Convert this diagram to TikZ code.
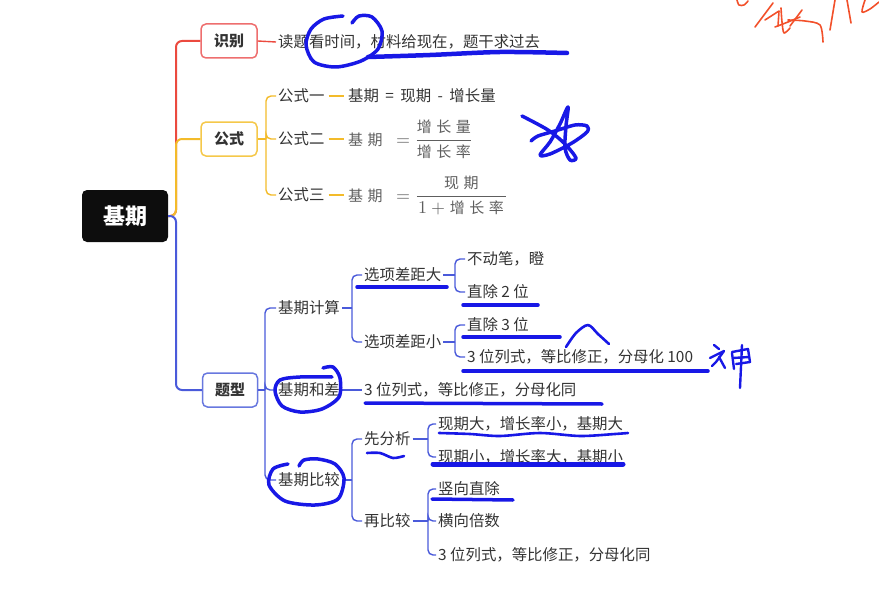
\documentclass[tikz,border=0pt]{standalone}
\usepackage{amsmath}
\usepackage{fontspec}
\usepackage{unicode-math}
\setmainfont{Noto Sans CJK SC}
\usetikzlibrary{calc}

\definecolor{txt}{HTML}{333333}
\definecolor{fgray}{HTML}{5E5E5E}
\definecolor{cred}{HTML}{EB4A3F}
\definecolor{credbox}{HTML}{EE6E6E}
\definecolor{cyel}{HTML}{F3BB2A}
\definecolor{cyelbox}{HTML}{F5C84A}
\definecolor{cblu}{HTML}{4A5ADA}
\definecolor{cblubox}{HTML}{6878DF}
\definecolor{ink}{HTML}{1818E6}
\definecolor{redink}{HTML}{F2502A}

% CJK word inside a formula, set at text size with letter gaps
\newcommand{\fw}[1]{\mbox{\fontsize{15}{18}\selectfont #1}}
\newcommand{\fg}{\hspace{4.5pt}}

\begin{document}
\begin{tikzpicture}[x=1pt,y=-1pt,
  box/.style={draw, rounded corners=5pt, line width=1.5pt, minimum width=56pt,
    minimum height=34pt, fill=white, text=txt, inner sep=0pt,
    font=\fontsize{15}{18}\selectfont\bfseries},
  leaf/.style={anchor=west, text=txt, font=\fontsize{15.4}{18}\selectfont,
    inner xsep=2pt, inner ysep=0pt, text height=12.8pt, text depth=1.6pt},
  formula/.style={leaf, text=fgray, font=\fontsize{18}{21}\selectfont,
    text height=12pt, text depth=0pt},
  br/.style={line width=1.4pt, rounded corners=5pt},
  trunk/.style={line width=2pt, rounded corners=6pt},
  inkpen/.style={ink, line width=3.5pt, line cap=round, line join=round},
  redpen/.style={redink, line width=1.6pt, line cap=round, line join=round}]

\useasboundingbox (0,0) rectangle (879,594);

% ---------- root and first-level boxes ----------
\node[rounded corners=5pt, fill=black!95, text=white, minimum width=86pt,
  minimum height=52pt, inner sep=0pt, font=\fontsize{22}{26}\selectfont\bfseries]
  (root) at (125,216) {基期};
\node[box, draw=credbox] (shibie) at (229,41) {识别};
\node[box, draw=cyelbox] (gongshi) at (229,139) {公式};
\node[box, draw=cblubox, minimum width=55pt] (tixing) at (230,390) {题型};

\coordinate (rj) at (176,216);
\draw[trunk, cred] (root.east) -- (rj) |- (shibie.west);
\draw[trunk, cyel] (root.east) -- (rj) |- (gongshi.west);
\draw[trunk, cblu] (root.east) -- (rj) |- (tixing.west);

% ---------- 识别 ----------
\node[leaf] (sb1) at (276,42) {读题看时间，材料给现在，题干求过去};
\draw[br, cred] (shibie.east) -- (sb1.west);

% ---------- 公式 ----------
\node[leaf] (g1) at (276,96) {公式一};
\node[leaf] (g2) at (276,139) {公式二};
\node[leaf] (g3) at (276,195) {公式三};
\coordinate (gj) at (266,139);
\draw[br, cyel] (gongshi.east) -- (gj);
\foreach \c in {g1,g2,g3} \draw[br, cyel] (gj) |- (\c.west);

\node[leaf] (f1) at (346,96) {基期\hspace{3pt} = \hspace{3pt}现期\hspace{3pt} - \hspace{3pt}增长量};
\node[formula] (f2) at (346,139)
  {$\fw{基\fg 期}\hspace{9pt} = \dfrac{\fw{增\fg 长\fg 量}}{\fw{增\fg 长\fg 率}}$};
\node[formula] (f3) at (346,195)
  {$\fw{基\fg 期}\hspace{9pt} = \dfrac{\fw{现\fg 期}}{\hspace{2pt}1 + \fw{增\fg 长\fg 率}\hspace{2pt}}$};
\foreach \a/\b in {g1/f1,g2/f2,g3/f3}
  \draw[cyel, line width=1.4pt, shorten <=2pt, shorten >=2pt] (\a.east) -- (\b.west);

% ---------- 题型 ----------
\node[leaf] (js) at (276,308) {基期计算};
\node[leaf] (hc) at (276,390) {基期和差};
\node[leaf] (bj) at (276,480) {基期比较};
\coordinate (tj) at (265,390);
\draw[br, cblu] (tixing.east) -- (tj);
\foreach \c in {js,hc,bj} \draw[br, cblu] (tj) |- (\c.west);

% 基期计算
\node[leaf] (xd) at (362,275) {选项差距大};
\node[leaf] (xx) at (362,342) {选项差距小};
\coordinate (jsj) at (352,308);
\draw[br, cblu] (js.east) -- (jsj);
\foreach \c in {xd,xx} \draw[br, cblu] (jsj) |- (\c.west);

\node[leaf] (xd1) at (465,259) {不动笔，瞪};
\node[leaf] (xd2) at (465,292) {直除 2 位};
\coordinate (xdj) at (455,275);
\draw[br, cblu] (xd.east) -- (xdj);
\foreach \c in {xd1,xd2} \draw[br, cblu] (xdj) |- (\c.west);

\node[leaf] (xx1) at (465,325) {直除 3 位};
\node[leaf] (xx2) at (465,357) {3 位列式，等比修正，分母化 100};
\coordinate (xxj) at (455,342);
\draw[br, cblu] (xx.east) -- (xxj);
\foreach \c in {xx1,xx2} \draw[br, cblu] (xxj) |- (\c.west);

% 基期和差
\node[leaf] (hc1) at (362,390) {3 位列式，等比修正，分母化同};
\draw[br, cblu] (hc.east) -- (hc1.west);

% 基期比较
\node[leaf] (fx) at (362,439) {先分析};
\node[leaf] (zb) at (362,521) {再比较};
\coordinate (bjj) at (352,480);
\draw[br, cblu] (bj.east) -- (bjj);
\foreach \c in {fx,zb} \draw[br, cblu] (bjj) |- (\c.west);

\node[leaf] (fx1) at (436,424) {现期大，增长率小，基期大};
\node[leaf] (fx2) at (436,457) {现期小，增长率大，基期小};
\coordinate (fxj) at (428,439);
\draw[br, cblu] (fx.east) -- (fxj);
\foreach \c in {fx1,fx2} \draw[br, cblu] (fxj) |- (\c.west);

\node[leaf] (zb1) at (436,489) {竖向直除};
\node[leaf] (zb2) at (436,521) {横向倍数};
\node[leaf] (zb3) at (436,555) {3 位列式，等比修正，分母化同};
\coordinate (zbj) at (428,521);
\draw[br, cblu] (zb.east) -- (zbj);
\foreach \c in {zb1,zb2,zb3} \draw[br, cblu] (zbj) |- (\c.west);

% ---------- pen marks ----------
% loop and underline on the first line
\draw[inkpen] plot[smooth] coordinates {(352,23) (359,16) (372,17) (382,31)
  (378,49) (361,61) (336,67) (314,62) (306,45) (311,29) (324,19) (343,16)};
\draw[inkpen, line width=4.5pt] plot[smooth] coordinates {(368,57) (430,55) (500,52) (567,53)};
% star
\draw[inkpen] plot[smooth] coordinates {(522,116) (548,130) (565,144) (576,158)
  (570,160) (565,148) (566,126) (568,107) (560,124) (550,142) (540,155)
  (550,154) (572,143) (587,132) (587,126) (575,125) (555,131) (538,136) (531,141)};
% underlines in 基期计算
\draw[inkpen] (357,287) -- (447,287);
\draw[inkpen] (463,305) -- (538,305);
\draw[inkpen] (463,337) -- (560,337);
\draw[inkpen, line width=2.6pt] plot[smooth] coordinates {(566,347) (576,333) (588,325) (598,334) (609,344)};
\draw[inkpen] (463,371) -- (708,371);
% handwritten character beside the 100 line
\draw[inkpen, line width=2.4pt] (714,345) -- (719,349);
\draw[inkpen, line width=2.4pt] (710,358) -- (724,351) -- (716,362) -- (712,366);
\draw[inkpen, line width=2.4pt] (719,357) -- (725,368);
\draw[inkpen, line width=2.4pt] (732,353) -- (734,369);
\draw[inkpen, line width=2.4pt] (732,352) -- (748,349) -- (750,362) -- (736,364);
\draw[inkpen, line width=2.4pt] (733,358) -- (749,357);
\draw[inkpen, line width=2.4pt] (742,345) -- (740,388);
% loop around 基期和差 and its underline
\draw[inkpen] plot[smooth] coordinates {(323,368) (333,367) (340,378) (339,397)
  (322,409) (300,412) (282,406) (275,391) (280,380) (300,377) (332,377)};
\draw[inkpen] (365,403) -- (602,404);
% 基期比较
\draw[inkpen] plot[smooth] coordinates {(299,466) (304,460) (318,459) (335,464)
  (344,478) (338,499) (315,505) (285,501) (269,485) (273,469) (288,464)};
\draw[inkpen, line width=2.6pt] plot[smooth] coordinates {(367,453) (380,453) (393,458) (404,456)};
\draw[inkpen, line width=2.6pt] plot[smooth] coordinates {(439,433) (470,434) (500,436)
  (540,433) (580,436) (615,434) (628,433)};
\draw[inkpen, line width=5pt] (433,464) -- (623,464);
\draw[inkpen] (432,499) -- (513,500);

% red handwriting in the corner
\draw[redpen] plot[smooth] coordinates {(737,0) (739,5) (744,5) (748,1)};
\draw[redpen] (755,27) -- (773,3);
\draw[redpen] (765,20) -- (779,11) -- (778,26);
\draw[redpen] plot[smooth] coordinates {(781,8) (782,22) (784,33) (790,28)};
\draw[redpen] plot[smooth] coordinates {(775,27) (788,22) (800,17)};
\draw[redpen] plot[smooth] coordinates {(788,20) (805,21) (820,25) (823,42)};
\draw[redpen] (802,10) -- (790,26);
\draw[redpen] (835,0) -- (830,30);
\draw[redpen] (847,0) -- (851,23);
\draw[redpen] plot[smooth] coordinates {(865,0) (862,12) (870,9) (879,2)};
\end{tikzpicture}
\end{document}
